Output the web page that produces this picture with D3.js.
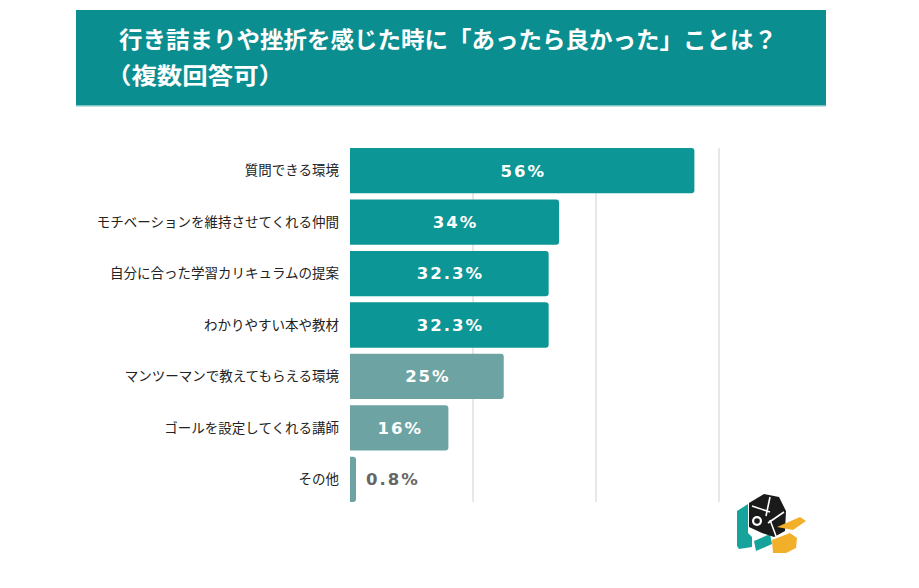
<!DOCTYPE html>
<html>
<head>
<meta charset="utf-8">
<script src="https://cdn.jsdelivr.net/npm/d3@7"></script>
<style>
  body { margin: 0; background: #fff; }
  svg { display: block; }
</style>
</head>
<body>
<svg id="chart" width="919" height="588"></svg>
<script>
// data
const categories = [
    '質問できる環境',
    'モチベーションを維持させてくれる仲間',
    '自分に合った学習カリキュラムの提案',
    'わかりやすい本や教材',
    'マンツーマンで教えてもらえる環境',
    'ゴールを設定してくれる講師',
    'その他'
];
const values = [56, 34, 32.3, 32.3, 25, 16, 0.8];
const valueLabels = ['56%', '34%', '32.3%', '32.3%', '25%', '16%', '0.8%'];
const gridTicks = [20, 40, 60];

const titleLines = ['行き詰まりや挫折を感じた時に「あったら良かった」ことは？', '（複数回答可）'];

const TEAL = '#0c9696';
const GREY_TEAL = '#6ea3a3';

const svg = d3.select('#chart');

// Header band
svg.append('rect')
    .attr('x', 76).attr('y', 10)
    .attr('width', 750).attr('height', 96)
    .attr('fill', '#0b8e8f');
svg.append('rect')
    .attr('x', 76).attr('y', 105)
    .attr('width', 750).attr('height', 1.5)
    .attr('fill', '#7fc3c3');

svg.append('text')
    .attr('x', 119).attr('y', 48)
    .attr('textLength', 658)
    .attr('lengthAdjust', 'spacingAndGlyphs')
    .style('font-family', '"Noto Sans CJK JP", sans-serif')
    .style('font-weight', 700)
    .style('font-size', '23px')
    .attr('fill', '#fff')
    .text(titleLines[0]);

svg.append('text')
    .attr('x', 106).attr('y', 84)
    .attr('textLength', 178)
    .attr('lengthAdjust', 'spacingAndGlyphs')
    .style('font-family', '"Noto Sans CJK JP", sans-serif')
    .style('font-weight', 700)
    .style('font-size', '23px')
    .attr('fill', '#fff')
    .text(titleLines[1]);

// Scales
const x = d3.scaleLinear().domain([0, 60]).range([350, 719]);
const y = d3.scaleBand()
    .domain(categories)
    .range([148, 502])
    .paddingInner(0.12)
    .paddingOuter(0);

// Grid lines
svg.append('g')
    .selectAll('line')
    .data(gridTicks)
    .enter()
    .append('line')
    .attr('x1', d => x(d)).attr('x2', d => x(d))
    .attr('y1', 148).attr('y2', 502)
    .attr('stroke', '#d0d0d0')
    .attr('stroke-width', 1);

// Bars, rounded on the right end
const r = 3;
function barPath(d, i) {
    const x0 = x(0), x1 = Math.max(x(d), x0 + 6), y0 = y(categories[i]), h = y.bandwidth();
    return `M${x0},${y0} H${x1 - r} Q${x1},${y0} ${x1},${y0 + r} V${y0 + h - r} Q${x1},${y0 + h} ${x1 - r},${y0 + h} H${x0} Z`;
}

const data = values.map((v, i) => ({ cat: categories[i], value: v, label: valueLabels[i], idx: i }));

svg.append('g')
    .selectAll('path')
    .data(data)
    .enter()
    .append('path')
    .attr('d', d => barPath(d.value, d.idx))
    .attr('fill', d => d.idx < 4 ? TEAL : GREY_TEAL);

// Category labels
svg.append('g')
    .selectAll('text')
    .data(data)
    .enter()
    .append('text')
    .attr('x', 339)
    .attr('y', d => y(d.cat) + y.bandwidth() / 2)
    .attr('dy', '0.35em')
    .attr('text-anchor', 'end')
    .style('font-family', '"Noto Sans CJK JP", sans-serif')
    .style('font-size', '13.5px')
    .attr('fill', '#222')
    .text(d => d.cat);

// Value labels
svg.append('g')
    .selectAll('text')
    .data(data)
    .enter()
    .append('text')
    .attr('x', d => d.value < 5 ? x(d.value) + 11 : (x(0) + x(d.value)) / 2 + 1)
    .attr('y', d => y(d.cat) + y.bandwidth() / 2)
    .attr('dy', '0.36em')
    .attr('text-anchor', d => d.value < 5 ? 'start' : 'middle')
    .style('font-family', '"DejaVu Sans", sans-serif')
    .style('font-weight', 700)
    .style('font-size', '16.5px')
    .style('letter-spacing', '2px')
    .attr('fill', d => d.value < 5 ? '#666' : '#fff')
    .text(d => d.label);

// Logo (decoration)
const logo = svg.append('g');
logo.append('path')
    .attr('d', 'M737,511 L748,504 L748,533 L752,537 L752,547 L739,549 L737,546 Z')
    .attr('fill', '#16a39b');
logo.append('path')
    .attr('d', 'M754,541 L770,534 L772,544 L756,551 Z')
    .attr('fill', '#16a39b');
logo.append('path')
    .attr('d', 'M749,503 L764,494 L779,497 L786,511 L785,531 L774,537 L762,533 L749,527 Z')
    .attr('fill', '#1a1a1a');
const blades = logo.append('g').attr('stroke', '#fff').attr('stroke-width', 1.6);
blades.append('line').attr('x1', 752).attr('y1', 506).attr('x2', 770).attr('y2', 512);
blades.append('line').attr('x1', 770).attr('y1', 497).attr('x2', 766).attr('y2', 516);
blades.append('line').attr('x1', 784).attr('y1', 512).attr('x2', 768).attr('y2', 523);
blades.append('line').attr('x1', 776).attr('y1', 536).attr('x2', 770).attr('y2', 520);
logo.append('circle')
    .attr('cx', 757).attr('cy', 521).attr('r', 7.5)
    .attr('fill', '#1a1a1a');
logo.append('circle')
    .attr('cx', 757).attr('cy', 521).attr('r', 5)
    .attr('fill', '#fff');
logo.append('circle')
    .attr('cx', 757).attr('cy', 521).attr('r', 2.8)
    .attr('fill', '#1a1a1a');
logo.append('path')
    .attr('d', 'M777,527 L800,517 L806,521 L793,530 Z')
    .attr('fill', '#f2b02a');
logo.append('path')
    .attr('d', 'M772,540 L790,533 L797,538 L796,548 L786,553 L773,553 Z')
    .attr('fill', '#f2b02a');
</script>
</body>
</html>
